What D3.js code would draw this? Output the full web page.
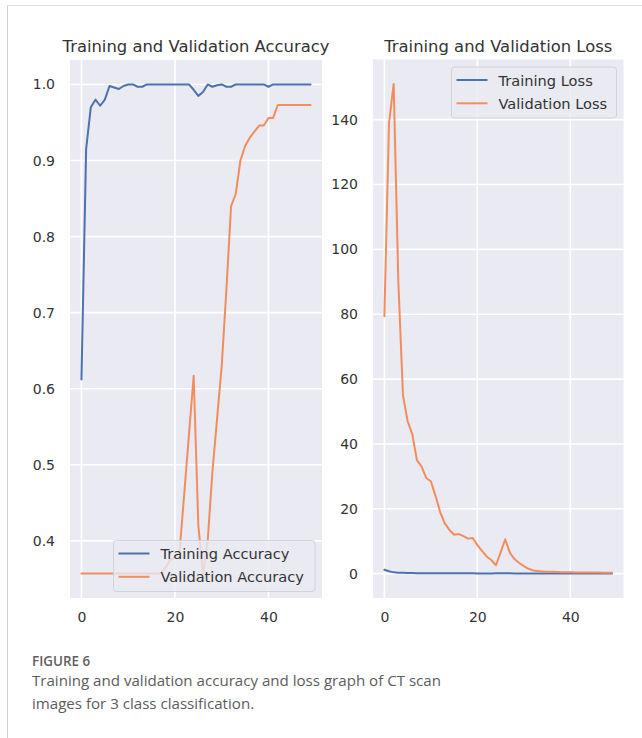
<!DOCTYPE html>
<html>
<head>
<meta charset="utf-8">
<script src="https://cdn.jsdelivr.net/npm/d3@7"></script>
<style>
  html, body { margin: 0; padding: 0; background: #ffffff; }
  svg { display: block; }
</style>
</head>
<body>
<svg id="chart" width="642" height="738"></svg>
<script>
// ---------------- data ----------------
const epochs = d3.range(0, 50);

const trainAcc = [0.612, 0.915, 0.970, 0.980, 0.972, 0.980, 0.998, 0.996, 0.994, 0.998,
                  1.000, 1.000, 0.997, 0.997, 1.000, 1.000, 1.000, 1.000, 1.000, 1.000,
                  1.000, 1.000, 1.000, 1.000, 0.993, 0.985, 0.990, 1.000, 0.997, 0.999,
                  1.000, 0.997, 0.997, 1.000, 1.000, 1.000, 1.000, 1.000, 1.000, 1.000,
                  0.997, 1.000, 1.000, 1.000, 1.000, 1.000, 1.000, 1.000, 1.000, 1.000];

const valAcc   = [0.357, 0.357, 0.357, 0.357, 0.357, 0.357, 0.357, 0.357, 0.357, 0.357,
                  0.357, 0.357, 0.357, 0.357, 0.357, 0.357, 0.357, 0.357, 0.365, 0.375,
                  0.378, 0.387, 0.463, 0.540, 0.617, 0.420, 0.357, 0.400, 0.490, 0.560,
                  0.630, 0.730, 0.840, 0.856, 0.900, 0.919, 0.930, 0.938, 0.946, 0.946,
                  0.956, 0.956, 0.973, 0.973, 0.973, 0.973, 0.973, 0.973, 0.973, 0.973];

const trainLoss = [1.20, 0.75, 0.40, 0.30, 0.25, 0.20, 0.18, 0.16, 0.15, 0.14,
                   0.13, 0.12, 0.12, 0.11, 0.10, 0.10, 0.10, 0.09, 0.09, 0.09,
                   0.08, 0.08, 0.08, 0.08, 0.10, 0.15, 0.12, 0.09, 0.08, 0.07,
                   0.07, 0.07, 0.06, 0.06, 0.06, 0.06, 0.05, 0.05, 0.05, 0.05,
                   0.05, 0.05, 0.05, 0.05, 0.04, 0.04, 0.04, 0.04, 0.04, 0.04];

const valLoss  = [79.4, 139.0, 151.0, 90.0, 55.0, 47.0, 43.0, 35.0, 33.0, 29.5,
                  28.5, 24.0, 19.0, 15.5, 13.5, 12.0, 12.2, 11.6, 10.8, 11.0,
                  8.8, 7.0, 5.3, 4.2, 2.6, 6.5, 10.6, 6.4, 4.5, 3.3,
                  2.3, 1.5, 1.0, 0.8, 0.7, 0.6, 0.55, 0.5, 0.45, 0.42,
                  0.40, 0.38, 0.36, 0.35, 0.34, 0.33, 0.32, 0.31, 0.30, 0.30];

const xTicks = [0, 20, 40];
const accTicks = [0.4, 0.5, 0.6, 0.7, 0.8, 0.9, 1.0];
const lossTicks = [0, 20, 40, 60, 80, 100, 120, 140];

const titles = ["Training and Validation Accuracy", "Training and Validation Loss"];
const accLabels = ["Training Accuracy", "Validation Accuracy"];
const lossLabels = ["Training Loss", "Validation Loss"];
const captionHead = "FIGURE 6";
const captionLines = ["Training and validation accuracy and loss graph of CT scan",
                      "images for 3 class classification."];

// ---------------- style ----------------
const BLUE = "#4c72b0";
const ORANGE = "#f38d5d";
const BG = "#eaeaf2";
const TEXT = "#333333";
const FONT = "DejaVu Sans, sans-serif";

const svg = d3.select("#chart");
svg.append("rect").attr("width", 642).attr("height", 738).attr("fill", "#fff");
// page frame lines
svg.append("line").attr("x1", 7.5).attr("x2", 7.5).attr("y1", 5).attr("y2", 738)
   .attr("stroke", "#cfcfcf").attr("stroke-width", 1);
svg.append("line").attr("x1", 7.5).attr("x2", 642).attr("y1", 5.5).attr("y2", 5.5)
   .attr("stroke", "#e2e2e2").attr("stroke-width", 1);

function padded(arrs) {
  const all = arrs.flat();
  const lo = d3.min(all), hi = d3.max(all);
  const p = (hi - lo) * 0.05;
  return [lo - p, hi + p];
}

function panel(opts) {
  const { left, right, top, bottom, series, labels, yTicks, yFmt, title, legend } = opts;
  const g = svg.append("g");
  const x = d3.scaleLinear().domain([-2.45, 51.45]).range([left, right]);
  const y = d3.scaleLinear().domain(padded(series)).range([bottom, top]);

  g.append("rect").attr("x", left).attr("y", top)
    .attr("width", right - left).attr("height", bottom - top).attr("fill", BG);

  // grid
  g.selectAll(".vg").data(xTicks).join("line")
    .attr("x1", d => x(d)).attr("x2", d => x(d)).attr("y1", top).attr("y2", bottom)
    .attr("stroke", "#fff").attr("stroke-width", 1.6);
  g.selectAll(".hg").data(yTicks).join("line")
    .attr("x1", left).attr("x2", right).attr("y1", d => y(d)).attr("y2", d => y(d))
    .attr("stroke", "#fff").attr("stroke-width", 1.6);

  // axes (labels only)
  const xa = g.append("g").attr("transform", `translate(0,${bottom})`)
    .call(d3.axisBottom(x).tickValues(xTicks).tickSize(0).tickPadding(14));
  const ya = g.append("g").attr("transform", `translate(${left},0)`)
    .call(d3.axisLeft(y).tickValues(yTicks).tickFormat(yFmt).tickSize(0).tickPadding(15));
  [xa, ya].forEach(a => {
    a.select(".domain").remove();
    a.selectAll("text").attr("font-family", FONT).attr("font-size", 14).attr("fill", TEXT);
  });

  // lines
  const colors = [BLUE, ORANGE];
  series.forEach((s, i) => {
    const line = d3.line().x((d, j) => x(epochs[j])).y(d => y(d));
    g.append("path").datum(s).attr("d", line).attr("fill", "none")
      .attr("stroke", colors[i]).attr("stroke-width", 2).attr("stroke-linejoin", "round")
      .attr("stroke-linecap", "round");
  });

  // title
  g.append("text").attr("x", (left + right) / 2).attr("y", 52).attr("text-anchor", "middle")
    .attr("font-family", FONT).attr("font-size", 16.4).attr("fill", TEXT).text(title);

  // legend
  const lg = g.append("g");
  lg.append("rect").attr("x", legend.x).attr("y", legend.y).attr("width", legend.w).attr("height", legend.h)
    .attr("rx", 3).attr("fill", BG).attr("fill-opacity", 0.8).attr("stroke", "#d2d2d8").attr("stroke-width", 1);
  labels.forEach((lab, i) => {
    const ly = legend.y + 13 + i * 23.3;
    lg.append("line").attr("x1", legend.x + 5).attr("x2", legend.x + 36).attr("y1", ly).attr("y2", ly)
      .attr("stroke", colors[i]).attr("stroke-width", 2);
    lg.append("text").attr("x", legend.x + 47).attr("y", ly + 5.5)
      .attr("font-family", FONT).attr("font-size", 14.6).attr("fill", TEXT).text(lab);
  });
}

panel({
  left: 70, right: 322, top: 60, bottom: 598,
  series: [trainAcc, valAcc], labels: accLabels,
  yTicks: accTicks, yFmt: d3.format(".1f"), title: titles[0],
  legend: { x: 113.5, y: 540.5, w: 201.5, h: 51 }
});

panel({
  left: 373, right: 623.5, top: 59.5, bottom: 598,
  series: [trainLoss, valLoss], labels: lossLabels,
  yTicks: lossTicks, yFmt: d3.format("d"), title: titles[1],
  legend: { x: 451.5, y: 67, w: 165, h: 51 }
});

// caption
svg.append("text").attr("x", 32).attr("y", 665.5)
  .attr("font-family", "Open Sans, sans-serif").attr("font-weight", 600)
  .attr("font-size", 13.4).attr("fill", "#606060").text(captionHead);
captionLines.forEach((t, i) => {
  svg.append("text").attr("x", 32).attr("y", 686 + i * 23)
    .attr("font-family", "Open Sans, sans-serif").attr("font-size", 15.1)
    .attr("fill", "#5c5c5c").text(t);
});
</script>
</body>
</html>
